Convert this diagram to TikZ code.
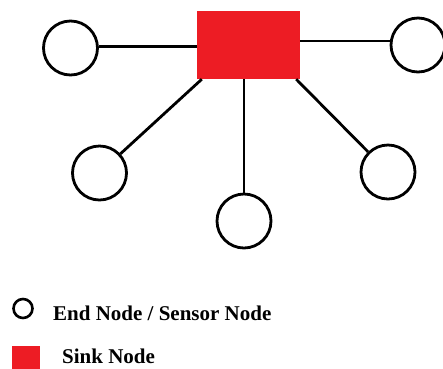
\documentclass[tikz,border=0pt]{standalone}
\usepackage{fontspec}
\setmainfont{Liberation Serif}
\usepackage{tikz}
\usetikzlibrary{positioning}
\definecolor{sinkred}{RGB}{237,28,36}

\begin{document}
\begin{tikzpicture}[x=1pt,y=-1pt,
  endnode/.style={draw, circle, line width=2.8pt, minimum size=54pt, inner sep=0pt},
  sinknode/.style={fill=sinkred, rectangle, minimum width=103pt, minimum height=68pt, inner sep=0pt},
  link/.style={line width=2.8pt},
  legtext/.style={font=\bfseries\fontsize{21}{25}\selectfont, inner sep=0pt, anchor=base west}]
\useasboundingbox (0,0) rectangle (443,368);
\node (sink) [sinknode] at (248.5,45) {};
\node (endL) [endnode] at (70.5,48) {};
\node (endR) [endnode] at (418,45) {};
\node (endLL) [endnode] at (99.5,173) {};
\node (endB) [endnode] at (244,221) {};
\node (endLR) [endnode] at (388,172) {};
\draw[link] ([yshift=-1.5pt]sink.west) -- ([yshift=-1.5pt]sink.west -| endL.east);
\draw[link] ([yshift=4pt]sink.east) -- ([yshift=4pt]sink.east -| endR.west);
\draw[link] ([xshift=5pt]sink.south west) -- (endLL);
\draw[link] (endB.north |- sink.south) -- (endB.north);
\draw[link] ([xshift=-4pt]sink.south east) -- (endLR);
% legend
\node (legE) [endnode, line width=2.6pt, minimum size=19pt] at (23,308.5) {};
\node (legEtext) [legtext] at (53,320) {End Node / Sensor Node};
\node (legS) [fill=sinkred, minimum size=28pt, inner sep=0pt] at (26,360) {};
\node (legStext) [legtext] at (62,363) {Sink Node};
\end{tikzpicture}
\end{document}
